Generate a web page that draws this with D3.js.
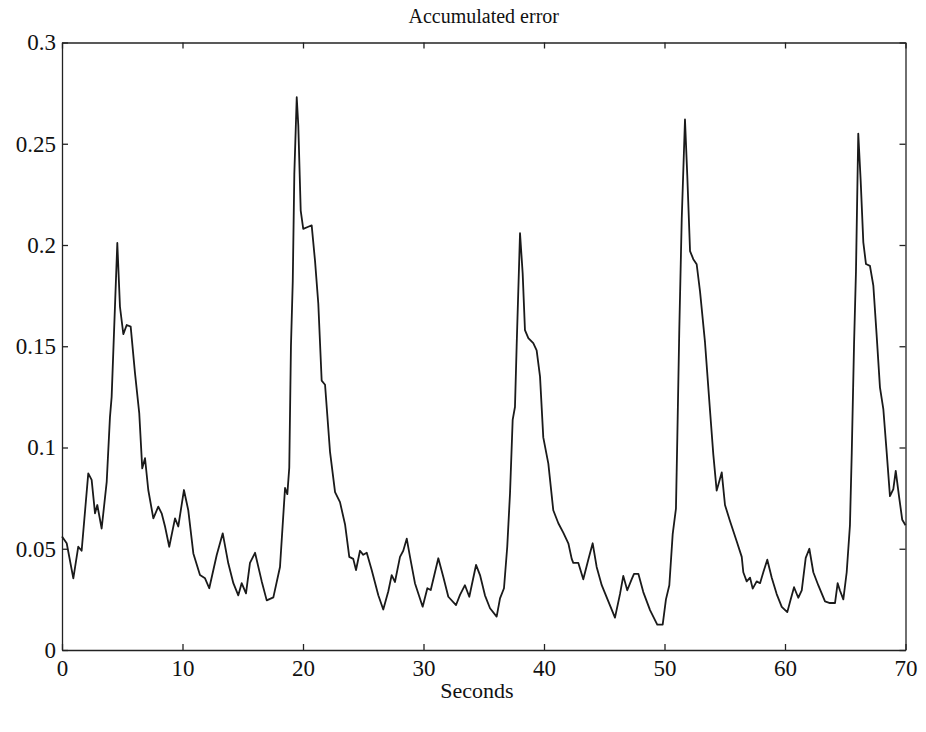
<!DOCTYPE html>
<html>
<head>
<meta charset="utf-8">
<title>Accumulated error</title>
<script src="https://cdn.jsdelivr.net/npm/d3@7"></script>
<style>
  body { margin: 0; background: #fff; }
  text { font-family: "Liberation Serif", "Times New Roman", serif; fill: #111; }
  .axis path, .axis line { stroke: #222; stroke-width: 1.3; }
  .axis text { font-size: 23px; }
  .curve { fill: none; stroke: #1a1a1a; stroke-width: 1.8; stroke-linejoin: round; }
</style>
</head>
<body>
<div id="chart"></div>
<script>
// seconds / error pairs
var seconds = [
  0, 0.39, 0.94, 1.35, 1.63, 2.18, 2.46, 2.74, 2.93, 3.29, 3.71, 3.98, 4.12, 4.59, 4.81, 5.09, 5.37, 5.70,
  6.06, 6.41, 6.66, 6.89, 7.16, 7.58, 7.99, 8.27, 8.55, 8.90, 9.38, 9.65, 10.12, 10.48, 10.90, 11.45, 11.87,
  12.22, 12.84, 13.34, 13.80, 14.22, 14.63, 14.91, 15.27, 15.60, 16.02, 16.57, 16.99, 17.54, 18.09, 18.51,
  18.70, 18.86, 19.00, 19.15, 19.28, 19.48, 19.61, 19.81, 20.02, 20.44, 20.72, 21.00, 21.27, 21.55, 21.83,
  22.24, 22.66, 23.07, 23.49, 23.84, 24.17, 24.40, 24.73, 25.00, 25.29, 25.70, 26.25, 26.66, 27.08, 27.36,
  27.63, 28.05, 28.32, 28.61, 28.88, 29.29, 29.93, 30.32, 30.60, 31.23, 31.64, 32.06, 32.70, 33.03, 33.44,
  33.80, 34.36, 34.69, 35.10, 35.52, 36.07, 36.35, 36.68, 36.95, 37.18, 37.40, 37.59, 37.73, 38.01, 38.23,
  38.42, 38.70, 39.11, 39.39, 39.67, 39.94, 40.36, 40.77, 41.19, 41.60, 42.02, 42.30, 42.43, 42.85, 43.26,
  43.68, 44.04, 44.37, 44.79, 45.34, 45.89, 46.31, 46.58, 46.91, 47.28, 47.47, 47.83, 48.24, 48.80, 49.40,
  49.85, 50.12, 50.40, 50.68, 50.95, 51.06, 51.23, 51.43, 51.70, 51.89, 52.12, 52.39, 52.67, 52.95, 53.36,
  53.78, 54.05, 54.33, 54.75, 55.02, 55.44, 55.99, 56.41, 56.54, 56.82, 57.10, 57.32, 57.65, 57.93, 58.20,
  58.53, 58.90, 59.31, 59.73, 60.19, 60.47, 60.75, 61.10, 61.39, 61.72, 62.02, 62.35, 62.76, 63.32, 63.73,
  64.15, 64.37, 64.56, 64.84, 65.12, 65.39, 65.54, 65.73, 65.89, 66.08, 66.28, 66.50, 66.72, 67.05, 67.33,
  67.61, 67.88, 68.16, 68.44, 68.71, 68.99, 69.19, 69.46, 69.73, 70.0
];
var error = [
  0.056, 0.0527, 0.0354, 0.051, 0.049, 0.0872, 0.084, 0.0675, 0.0716, 0.060, 0.083, 0.115, 0.125, 0.201, 0.1695, 0.156, 0.1605, 0.1597,
  0.1366, 0.117, 0.0897, 0.0947, 0.079, 0.065, 0.0708, 0.0675, 0.061, 0.051, 0.065, 0.061, 0.079, 0.069, 0.0477, 0.037, 0.0354,
  0.0305, 0.0469, 0.0576, 0.0428, 0.033, 0.027, 0.033, 0.028, 0.043, 0.048, 0.034, 0.0245, 0.026, 0.041, 0.080,
  0.077, 0.090, 0.150, 0.182, 0.235, 0.273, 0.259, 0.217, 0.208, 0.209, 0.2097, 0.192, 0.171, 0.133, 0.131,
  0.098, 0.078, 0.073, 0.062, 0.046, 0.045, 0.0395, 0.049, 0.047, 0.048, 0.0395, 0.027, 0.020, 0.029, 0.037,
  0.0336, 0.046, 0.049, 0.055, 0.046, 0.033, 0.0214, 0.0305, 0.0296, 0.0453, 0.0362, 0.0263, 0.0222, 0.0272, 0.032,
  0.0263, 0.042, 0.037, 0.027, 0.0206, 0.0165, 0.0255, 0.0305, 0.051, 0.0774, 0.1136, 0.120, 0.150, 0.2058, 0.186,
  0.158, 0.154, 0.1515, 0.148, 0.135, 0.105, 0.092, 0.069, 0.0626, 0.058, 0.0527, 0.045, 0.043, 0.043, 0.0349,
  0.0447, 0.0527, 0.041, 0.032, 0.024, 0.016, 0.0277, 0.0366, 0.0295, 0.035, 0.0376, 0.0376, 0.0286, 0.0197, 0.0125,
  0.0125, 0.025, 0.032, 0.0572, 0.0698, 0.1037, 0.159, 0.2128, 0.262, 0.2343, 0.197, 0.193, 0.1905, 0.177, 0.152,
  0.118, 0.0966, 0.0787, 0.0877, 0.0716, 0.0636, 0.0537, 0.046, 0.0384, 0.0339, 0.0357, 0.0303, 0.0339, 0.033, 0.0384,
  0.0446, 0.0357, 0.0276, 0.0213, 0.0187, 0.0249, 0.031, 0.0258, 0.0294, 0.0455, 0.05, 0.0384, 0.032, 0.024, 0.0232,
  0.0232, 0.033, 0.0294, 0.025, 0.0384, 0.0616, 0.0974, 0.151, 0.187, 0.255, 0.2318, 0.2013, 0.1906, 0.1897, 0.18,
  0.155, 0.1297, 0.119, 0.0975, 0.076, 0.0795, 0.0885, 0.076, 0.0643, 0.0616
];
var xTicks = [0, 10, 20, 30, 40, 50, 60, 70];
var yTicks = [0, 0.05, 0.1, 0.15, 0.2, 0.25, 0.3];

var W = 926, H = 732;
var margin = {top: 42.5, right: 20.5, bottom: 82, left: 62};
var width  = W - margin.left - margin.right;
var height = H - margin.top - margin.bottom;
var tick = 6;

var svg = d3.select("#chart").append("svg")
  .attr("width", W)
  .attr("height", H);

var g = svg.append("g")
  .attr("transform", "translate(" + margin.left + "," + margin.top + ")");

var x = d3.scaleLinear().domain([0, 70]).range([0, width]);
var y = d3.scaleLinear().domain([0, 0.3]).range([height, 0]);

// axes: labels on left/bottom, bare ticks on top/right, all pointing inward
g.append("g").attr("class", "axis")
  .attr("transform", "translate(0," + height + ")")
  .call(d3.axisBottom(x).tickValues(xTicks).tickSizeInner(-tick).tickSizeOuter(0).tickPadding(10).tickFormat(d => d))
  .call(a => a.selectAll("text").attr("dy", "0.71em"));

g.append("g").attr("class", "axis")
  .call(d3.axisLeft(y).tickValues(yTicks).tickSizeInner(-tick).tickSizeOuter(0).tickPadding(6).tickFormat(d => String(d)));

g.append("g").attr("class", "axis")
  .call(d3.axisTop(x).tickValues(xTicks).tickSizeInner(-tick).tickSizeOuter(0).tickFormat(""));

g.append("g").attr("class", "axis")
  .attr("transform", "translate(" + width + ",0)")
  .call(d3.axisRight(y).tickValues(yTicks).tickSizeInner(-tick).tickSizeOuter(0).tickFormat(""));

var line = d3.line()
  .x((d, i) => x(seconds[i]))
  .y(d => y(d));

g.append("path")
  .attr("class", "curve")
  .attr("d", line(error));

svg.append("text")
  .attr("x", margin.left + width / 2)
  .attr("y", 23)
  .attr("text-anchor", "middle")
  .style("font-size", "20px")
  .text("Accumulated error");

svg.append("text")
  .attr("x", 477)
  .attr("y", 698)
  .attr("text-anchor", "middle")
  .style("font-size", "22px")
  .text("Seconds");
</script>
</body>
</html>
